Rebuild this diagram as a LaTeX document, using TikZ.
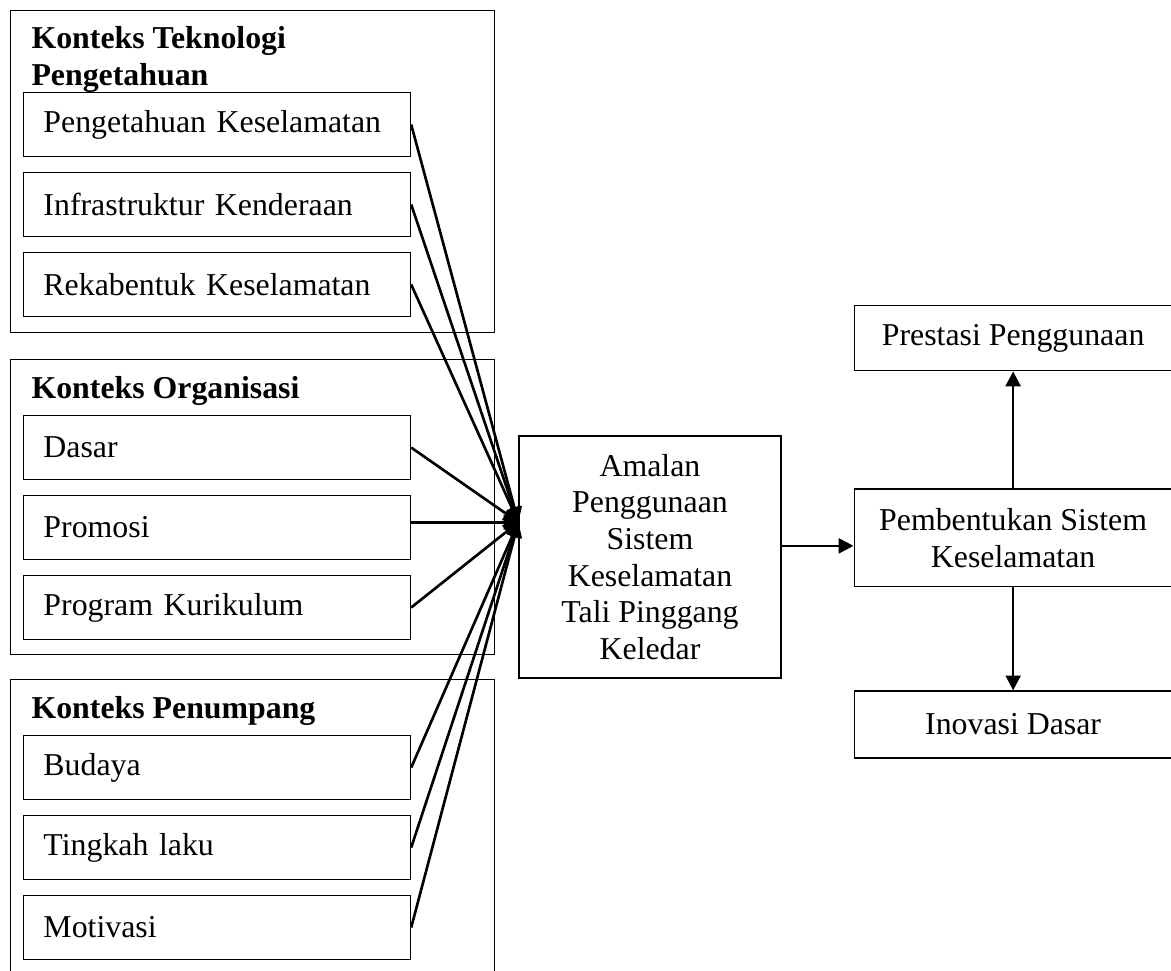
\documentclass[tikz,border=0pt]{standalone}
\usepackage{fontspec}
\setmainfont{Liberation Serif}
\usepackage{tikz}
\usetikzlibrary{positioning,arrows.meta}

\tikzset{
  txt/.style={font=\fontsize{12pt}{13.8pt}\selectfont},
  frame/.style={rectangle, draw, line width=0.45pt, anchor=north west, minimum width=182.5pt},
  head/.style={txt, anchor=base west, inner sep=0pt, align=left, font=\fontsize{12pt}{13.8pt}\selectfont\bfseries},
  item/.style={txt, rectangle, draw, line width=0.45pt, minimum width=145.9pt, minimum height=24.1pt,
    text width=130.9pt, inner xsep=7.5pt, align=left},
  box/.style={txt, rectangle, draw, line width=0.45pt, align=center, minimum width=119.9pt},
}

\begin{document}
\begin{tikzpicture}[x=0.377pt, y=-0.377pt]
\useasboundingbox (0,0) rectangle (1171,971);
%% Nodes definition
% konteks
\node[frame, minimum height=121.4pt] (tekno) at (10,10) {};
\node[frame, minimum height=111.2pt] (org) at (10,359) {};
\node[frame, minimum height=120pt] (penum) at (10,679) {};
\node[head] (tekno_h) at (31,85) {Konteks Teknologi\\Pengetahuan};
\node[head] (org_h) at (31,398) {Konteks Organisasi};
\node[head] (penum_h) at (31,718) {Konteks Penumpang};

\node[item, anchor=north west] (peng_kes) at (23,92) {Pengetahuan Keselamatan};
\node[item, below = 5.6pt of peng_kes] (infra) {Infrastruktur Kenderaan};
\node[item, below = 5.6pt of infra] (reka) {Rekabentuk Keselamatan};
\node[item, anchor=north west] (dasar) at (23,415) {Dasar};
\node[item, below = 5.6pt of dasar] (promosi) {Promosi};
\node[item, below = 5.6pt of promosi] (program) {Program Kurikulum};
\node[item, anchor=north west] (budaya) at (23,735) {Budaya};
\node[item, below = 5.6pt of budaya] (tingkah) {Tingkah laku};
\node[item, below = 5.6pt of tingkah] (motivasi) {Motivasi};

% amalan & hasil
\node[box, minimum width=98.8pt, minimum height=91.2pt] (amalan) at (650,557)
  {Amalan\\Penggunaan\\Sistem\\Keselamatan\\Tali Pinggang\\Keledar};
\node[box, minimum height=36.9pt, right = 27.1pt of amalan, yshift=7.2pt] (pembentukan)
  {Pembentukan Sistem\\Keselamatan};
\node[box, minimum height=24.5pt, above = 44.1pt of pembentukan] (prestasi) {Prestasi Penggunaan};
\node[box, minimum height=25.3pt, below = 38.8pt of pembentukan] (inovasi) {Inovasi Dasar};

\coordinate (hub) at ([yshift=2pt]promosi.east -| amalan.west);
\coordinate (masuk) at ([yshift=-3pt]pembentukan.west);

%% Edges definition
\path[every edge/.append style={line width=1pt, >={Triangle[length=5.6pt,width=5.6pt]}}]
    (peng_kes.east) edge [->] (hub)
    (infra.east) edge [->] (hub)
    (reka.east) edge [->] (hub)
    (dasar.east) edge [->] (hub)
    (promosi.east |- hub) edge [->] (hub)
    (program.east) edge [->] (hub)
    (budaya.east) edge [->] (hub)
    (tingkah.east) edge [->] (hub)
    (motivasi.east) edge [->] (hub)
    (amalan.east |- masuk) edge [->] (masuk)
    (pembentukan.north) edge [->] (prestasi.south)
    (pembentukan.south) edge [->] (inovasi.north)
    ;
\end{tikzpicture}
\end{document}
